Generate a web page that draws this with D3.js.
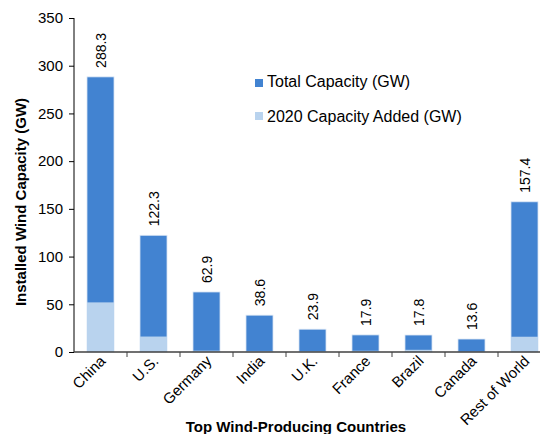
<!DOCTYPE html>
<html><head><meta charset="utf-8">
<script src="https://cdn.jsdelivr.net/npm/d3@7/dist/d3.min.js"></script>
<style>body{margin:0;background:#fff;} text{font-family:"Liberation Sans",Arial,sans-serif;}</style>
</head><body><svg id="c" width="540" height="434"></svg>
<script>
const countries = ["China","U.S.","Germany","India","U.K.","France","Brazil","Canada","Rest of World"];
const totalCapacity = [288.3,122.3,62.9,38.6,23.9,17.9,17.8,13.6,157.4];
const added2020 = [52.0,16.2,1.4,1.1,0.6,1.3,2.3,0.2,16.0];
const yTicks = [0,50,100,150,200,250,300,350];
const seriesNames = ["Total Capacity (GW)","2020 Capacity Added (GW)"];
const colors = ["#4283d1","#b9d3ee"];

const svg = d3.select("#c");
const y0 = 352, yTop = 18;
const x = d3.scaleBand().domain(countries).range([74, 74+53*9]).paddingInner(0.49).paddingOuter(0.245);
const y = d3.scaleLinear().domain([0,350]).range([y0, yTop]);

const g = svg.append("g");
g.selectAll("rect.t").data(countries).enter().append("rect")
  .attr("x", d=>x(d)).attr("width", x.bandwidth())
  .attr("y", (d,i)=>y(totalCapacity[i])).attr("height", (d,i)=>y0-y(totalCapacity[i]))
  .attr("fill", colors[0]).attr("stroke","#dde8f5").attr("stroke-width",0.8);
g.selectAll("rect.a").data(countries).enter().append("rect")
  .attr("x", d=>x(d)).attr("width", x.bandwidth())
  .attr("y", (d,i)=>y(added2020[i])).attr("height", (d,i)=>y0-y(added2020[i]))
  .attr("fill", colors[1]);

g.selectAll("text.v").data(countries).enter().append("text")
  .attr("transform", (d,i)=>`translate(${x(d)+x.bandwidth()/2+5.5},${y(totalCapacity[i])-9}) rotate(-90)`)
  .attr("font-size", 14).attr("fill","#000").text((d,i)=>totalCapacity[i].toFixed(1));

const ya = svg.append("g").attr("transform","translate(74,0)")
  .call(d3.axisLeft(y).tickValues(yTicks).tickSize(5).tickPadding(6));
ya.select(".domain").attr("stroke","#000").attr("d",`M0,${yTop}V${y0}`);
ya.selectAll("text").attr("font-size",15).attr("fill","#000").style("font-family","Liberation Sans, Arial, sans-serif");
ya.selectAll("line").attr("stroke","#000");

const xa = svg.append("g").attr("transform",`translate(0,${y0})`);
xa.append("line").attr("x1",74).attr("x2",540).attr("stroke","#404040").attr("stroke-width",1.5);
const bounds = d3.range(1,10).map(i=>x.range()[0] + i*x.step());
xa.selectAll("line.tk").data(bounds).enter().append("line")
  .attr("x1",d=>d).attr("x2",d=>d).attr("y1",0).attr("y2",5).attr("stroke","#404040");
xa.selectAll("text").data(countries).enter().append("text")
  .attr("transform", d=>`translate(${x(d)+x.bandwidth()/2+6},${10}) rotate(-45)`)
  .attr("text-anchor","end").attr("font-size",15).attr("fill","#000").text(d=>d);

svg.append("text").attr("transform","translate(26,202) rotate(-90)").attr("text-anchor","middle")
  .attr("font-size",15).attr("font-weight","bold").text("Installed Wind Capacity (GW)");
svg.append("text").attr("x",296).attr("y",432).attr("text-anchor","middle")
  .attr("font-size",15).attr("font-weight","bold").text("Top Wind-Producing Countries");

const lg = svg.append("g");
seriesNames.forEach((s,i)=>{
  lg.append("rect").attr("x",255).attr("y",79+i*33).attr("width",8).attr("height",8).attr("fill",colors[i]);
  lg.append("text").attr("x",267).attr("y",87+i*35).attr("font-size",16).text(s);
});
</script></body></html>
